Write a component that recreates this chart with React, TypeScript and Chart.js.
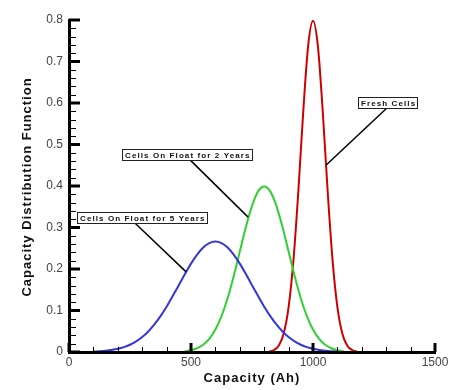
import React, { useEffect, useRef } from "react";
import { Chart, registerables } from "chart.js";

Chart.register(...registerables);

// ---- data ----
const blueX = [100, 125, 150, 175, 200, 225, 250, 275, 300, 325, 350, 375, 400, 425, 450, 475, 500, 525, 550, 575, 600,
  625, 650, 675, 700, 725, 750, 775, 800, 825, 850, 875, 900, 925, 950, 975, 1000, 1025, 1050, 1075, 1100];
const blueY = [0.001, 0.0018, 0.003, 0.0048, 0.0076, 0.0117, 0.0175, 0.0254, 0.036, 0.0495, 0.0663, 0.0864, 0.109, 0.1347, 0.161, 0.188, 0.213, 0.2348, 0.252, 0.2623, 0.266,
  0.2623, 0.252, 0.2348, 0.213, 0.188, 0.161, 0.1347, 0.109, 0.0864, 0.0663, 0.0495, 0.036, 0.0254, 0.0175, 0.0117, 0.0076, 0.0048, 0.003, 0.0018, 0.001];

const greenX = [475, 500, 525, 550, 575, 600, 625, 650, 675, 700, 725, 750, 775, 800,
  825, 850, 875, 900, 925, 950, 975, 1000, 1025, 1050, 1075, 1100, 1125];
const greenY = [0.002, 0.0044, 0.0091, 0.0175, 0.0317, 0.054, 0.0863, 0.1295, 0.1827, 0.242, 0.301, 0.352, 0.387, 0.399,
  0.387, 0.352, 0.301, 0.242, 0.1827, 0.1295, 0.0863, 0.054, 0.0317, 0.0175, 0.0091, 0.0044, 0.002];

const redX = [820, 840, 860, 880, 900, 920, 940, 960, 980, 1000, 1020, 1040, 1060, 1080, 1100, 1120, 1140, 1160, 1180];
const redY = [0.0012, 0.0048, 0.0158, 0.0448, 0.108, 0.222, 0.388, 0.579, 0.737, 0.798, 0.737, 0.579, 0.388, 0.222, 0.108, 0.0448, 0.0158, 0.0048, 0.0012];

const xTickValues = [0, 500, 1000, 1500];
const yTickValues = [0, 0.1, 0.2, 0.3, 0.4, 0.5, 0.6, 0.7, 0.8];

const xTitle = "Capacity (Ah)";
const yTitle = "Capacity Distribution Function";

const annotations = [
  { text: "Cells On Float for 5 Years", cx: 299, cy: 0.324, x1: 270, y1: 0.311, x2: 480, y2: 0.193 },
  { text: "Cells On Float for 2 Years", cx: 484, cy: 0.475, x1: 496, y1: 0.463, x2: 734, y2: 0.325 },
  { text: "Fresh Cells", cx: 1305, cy: 0.601, x1: 1303, y1: 0.588, x2: 1053, y2: 0.45 },
];

const toPts = (xs: number[], ys: number[]) => xs.map((x, i) => ({ x, y: ys[i] }));

const overlay = {
  id: "overlay",
  afterDatasetsDraw(chart: any) {
    const { ctx, chartArea: ca, scales } = chart;
    const xs = scales.x;
    const ys = scales.y;
    ctx.save();
    ctx.strokeStyle = "#000";
    ctx.lineCap = "butt";

    // minor ticks (inward)
    ctx.lineWidth = 1;
    for (let i = 0; i < yTickValues.length - 1; i++) {
      const a = yTickValues[i], b = yTickValues[i + 1];
      for (let k = 1; k < 5; k++) {
        const py = Math.round(ys.getPixelForValue(a + ((b - a) * k) / 5)) + 0.5;
        ctx.beginPath();
        ctx.moveTo(ca.left, py);
        ctx.lineTo(ca.left + 7, py);
        ctx.stroke();
      }
    }
    for (let i = 0; i < xTickValues.length - 1; i++) {
      const a = xTickValues[i], b = xTickValues[i + 1];
      for (let k = 1; k < 5; k++) {
        const px = Math.round(xs.getPixelForValue(a + ((b - a) * k) / 5)) + 0.5;
        ctx.beginPath();
        ctx.moveTo(px, ca.bottom);
        ctx.lineTo(px, ca.bottom - 5);
        ctx.stroke();
      }
    }
    // major ticks
    ctx.lineWidth = 3;
    for (const v of yTickValues) {
      const py = ys.getPixelForValue(v);
      ctx.beginPath();
      ctx.moveTo(ca.left, py);
      ctx.lineTo(ca.left + 11, py);
      ctx.stroke();
    }
    for (const v of xTickValues) {
      const px = xs.getPixelForValue(v);
      ctx.beginPath();
      ctx.moveTo(px, ca.bottom);
      ctx.lineTo(px, ca.bottom - 9);
      ctx.stroke();
    }
    // axis lines
    ctx.lineWidth = 3;
    ctx.lineJoin = "miter";
    ctx.beginPath();
    ctx.moveTo(ca.left + 0.5, ca.top - 1);
    ctx.lineTo(ca.left + 0.5, ca.bottom + 0.5);
    ctx.lineTo(ca.right + 1, ca.bottom + 0.5);
    ctx.stroke();

    // annotations
    ctx.font = 'bold 8px "Liberation Sans", Arial, sans-serif';
    (ctx as any).letterSpacing = "1.1px";
    for (const an of annotations) {
      const cx = xs.getPixelForValue(an.cx);
      const cy = ys.getPixelForValue(an.cy);
      const tw = ctx.measureText(an.text).width;
      const w = Math.round(tw + 4);
      const h = 11;
      const left = Math.round(cx - w / 2) + 0.5;
      const top = Math.round(cy - h / 2) + 0.5;
      ctx.lineWidth = 1.5;
      ctx.beginPath();
      ctx.moveTo(xs.getPixelForValue(an.x1), ys.getPixelForValue(an.y1));
      ctx.lineTo(xs.getPixelForValue(an.x2), ys.getPixelForValue(an.y2));
      ctx.stroke();
      ctx.fillStyle = "#fff";
      ctx.fillRect(left, top, w, h);
      ctx.lineWidth = 1;
      ctx.strokeStyle = "#222";
      ctx.strokeRect(left, top, w, h);
      ctx.strokeStyle = "#000";
      ctx.fillStyle = "#111";
      ctx.textAlign = "left";
      ctx.textBaseline = "alphabetic";
      ctx.fillText(an.text, left + 2.5, top + 8.5);
    }

    // axis titles
    ctx.font = 'bold 13px "Liberation Sans", Arial, sans-serif';
    (ctx as any).letterSpacing = "1px";
    ctx.fillStyle = "#111";
    ctx.textAlign = "center";
    ctx.textBaseline = "alphabetic";
    ctx.fillText(xTitle, 252, 382);
    ctx.translate(31, 187);
    ctx.rotate(-Math.PI / 2);
    ctx.fillText(yTitle, 0, 0);
    (ctx as any).letterSpacing = "0px";
    ctx.restore();
  },
};

export default function App() {
  const ref = useRef<HTMLCanvasElement | null>(null);
  useEffect(() => {
    if (!ref.current) return;
    const tickFont = { family: '"Liberation Sans", Arial, sans-serif', size: 12 };
    const chart = new Chart(ref.current, {
      type: "line",
      data: {
        datasets: [
          { label: "Cells On Float for 5 Years", data: toPts(blueX, blueY), borderColor: "#3434dc", borderWidth: 2, pointRadius: 0, fill: false, cubicInterpolationMode: "monotone" },
          { label: "Cells On Float for 2 Years", data: toPts(greenX, greenY), borderColor: "#2fd02f", borderWidth: 2, pointRadius: 0, fill: false, cubicInterpolationMode: "monotone" },
          { label: "Fresh Cells", data: toPts(redX, redY), borderColor: "#cc0000", borderWidth: 2, pointRadius: 0, fill: false, cubicInterpolationMode: "monotone" },
        ],
      },
      options: {
        animation: false,
        responsive: false,
        devicePixelRatio: 1,
        layout: { padding: { left: 0, top: 20, right: 27, bottom: 0 } },
        plugins: { legend: { display: false }, tooltip: { enabled: false } },
        scales: {
          x: {
            type: "linear",
            min: 0,
            max: 1500,
            afterFit: (s: any) => { s.height = 38; },
            afterBuildTicks: (s: any) => { s.ticks = xTickValues.map((v) => ({ value: v })); },
            grid: { display: false, drawTicks: false },
            border: { display: false },
            ticks: { color: "#444", font: tickFont, padding: 3, maxRotation: 0, callback: (v: any) => String(v) },
          },
          y: {
            type: "linear",
            min: 0,
            max: 0.8,
            afterFit: (s: any) => { s.width = 69; },
            afterBuildTicks: (s: any) => { s.ticks = yTickValues.map((v) => ({ value: v })); },
            grid: { display: false, drawTicks: false },
            border: { display: false },
            ticks: { color: "#444", font: tickFont, padding: 6, callback: (v: any) => String(Math.round(v * 10) / 10) },
          },
        },
      },
      plugins: [overlay],
    } as any);
    return () => chart.destroy();
  }, []);
  return (
    <div style={{ position: "fixed", left: 0, top: 0, width: 462, height: 390, background: "#fff" }}>
      <canvas ref={ref} width={462} height={390} style={{ display: "block" }} />
    </div>
  );
}
